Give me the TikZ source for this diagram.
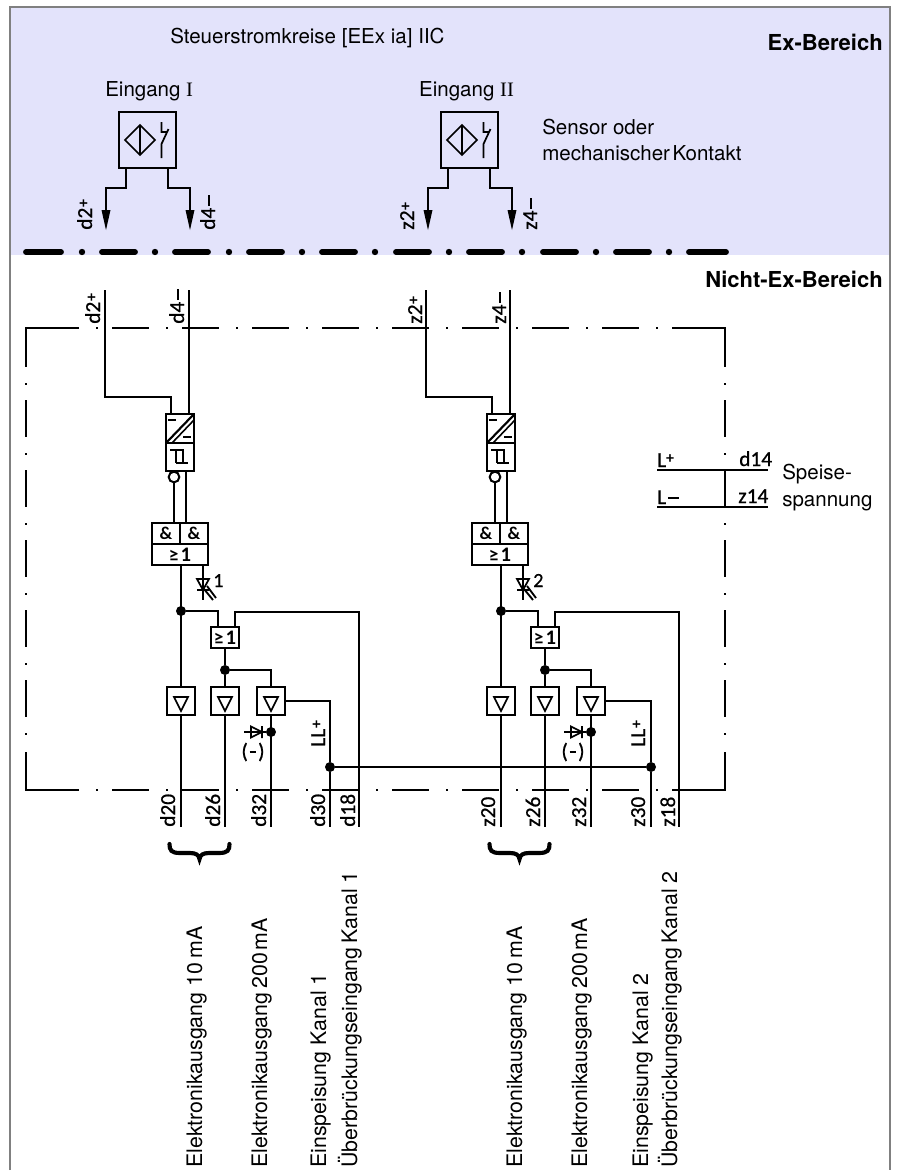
\documentclass[tikz,border=0pt]{standalone}
\usepackage{fontspec}
\setmainfont{TeX Gyre Heros}
\newfontfamily\serf{Liberation Serif}
\newfontfamily\din[RawFeature={embolden=0.7}]{Carlito}
\newfontfamily\dinbold{Carlito Bold}
\definecolor{exbg}{HTML}{E3E3FB}
\definecolor{framegray}{HTML}{808080}
\newcommand{\txtf}{\fontsize{15.4}{18}\selectfont}
\newcommand{\vtxtf}{\fontsize{16}{18}\selectfont}
\newcommand{\boldf}{\bfseries\fontsize{16.5}{18}\selectfont}
\newcommand{\dinf}{\din\fontsize{16}{18}\selectfont}
\newcommand{\dinb}{\dinbold\fontsize{13.5}{15}\selectfont}
\newcommand{\plusm}{\raisebox{.32ex}{\dinbold\fontsize{12}{12}\selectfont +}}
\newcommand{\minusm}{\hspace{.08em}\rule[.52ex]{.5em}{.085em}}
\newcommand{\geone}{{\dinbold\fontsize{14.5}{12}\selectfont ≥}\hspace{.12em}{\dinbold\fontsize{15.5}{15}\selectfont 1}}
\tikzset{
  x=0.75pt,y=-0.75pt,
  wire/.style={line width=1.6pt,line cap=butt,line join=miter},
  bx/.style 2 args={draw,line width=1.6pt,inner sep=0pt,outer sep=0pt,minimum width=#1*0.75pt,minimum height=#2*0.75pt},
  dot/.style={circle,fill=black,inner sep=0pt,minimum size=7.5pt},
  ring/.style={circle,draw,line width=1.5pt,fill=white,inner sep=0pt,minimum size=8pt},
  txt/.style={font=\txtf,inner sep=0pt,anchor=base west},
  vtxt/.style={font=\vtxtf,inner sep=0pt,anchor=base west,rotate=90},
  vdin/.style={font=\dinf,inner sep=0pt,anchor=base west,rotate=90},
  hdin/.style={font=\dinf,inner sep=0pt,anchor=base west},
  gate/.style={font=\dinb},
  thickdash/.style={line width=4.4pt,line cap=round},
}
% #1 id, #2 letter, #3 LED number, #4 upper offset, #5 converter offset, #6 lower offset, #7 sensor title
\newcommand{\channel}[7]{%
 \begin{scope}[shift={(#4,0)}]
  \node[bx={57}{56}] (#1sens) at (147.5,140) {};
  \draw[line width=1.3pt,line join=miter] (140,125)--(155,140)--(140,155)--(125,140)--cycle (140,125)--(140,155);
  \draw[line width=1.3pt] (161.5,122)--(161.5,132)--(167.5,132) (168.5,129)--(161.5,144)--(161.5,158);
  \coordinate (#1sl) at (126,168); \coordinate (#1sr) at (168,168);
  \coordinate (#1al) at (106,212); \coordinate (#1ar) at (190,212);
  \coordinate (#1bl) at (106,188); \coordinate (#1br) at (190,188);
  \draw[wire] (#1sl)|-(#1bl)--(#1al);
  \draw[wire] (#1sr)|-(#1br)--(#1ar);
  \fill (101.5,210)--(110.5,210)--(106,230)--cycle;
  \fill (185.5,210)--(194.5,210)--(190,230)--cycle;
  \node[vdin] (#1lt2) at (92,230) {#22\plusm};
  \node[vdin] (#1lt4) at (215,230) {#24\minusm};
  \node[vdin] (#1lb2) at (100,324) {#22\plusm};
  \node[vdin] (#1lb4) at (184,324) {#24\minusm};
 \end{scope}
 \node[txt] (#1title) at ({105+#4*0.975},96) {#7};
 \begin{scope}[shift={(#5,0)}]
  \node[bx={28}{29}] (#1conv) at (180,428.5) {};
  \node[bx={28}{28}] (#1schm) at (180,457) {};
  \coordinate (#1ci) at (171,414); \coordinate (#1cj) at (189,414);
  \coordinate (#1ti) at (105,290); \coordinate (#1tj) at (189,290);
  \coordinate (#1kn) at (105,397);
  \draw[wire] (#1ti)--(#1kn)-|(#1ci);
  \draw[wire] (#1tj)--(#1cj);
  \draw[wire] (#1conv.south west)--(#1conv.north east);
  \draw[line width=1.2pt] (172,443)--(194,420);
  \draw[wire] (168,420)--(176,420) (183,437)--(191,437);
  \draw[line width=1.3pt] (170,450)--(184,450) (176,450)--(176,463) (183,450)--(183,463) (176,463)--(188,463);
  \node[ring] (#1ring) at (174,477) {};
  \coordinate (#1o1) at (174,482); \coordinate (#1o2) at (186,471);
  \coordinate (#1i1) at (174,523); \coordinate (#1i2) at (186,523);
  \draw[wire] (#1o1)--(#1i1);
  \draw[wire] (#1o2)--(#1i2);
 \end{scope}
 \begin{scope}[shift={(#6,0)}]
  \node[bx={28}{21},gate] (#1a1) at (166,533.5) {\&};
  \node[bx={28}{21},gate] (#1a2) at (194,533.5) {\&};
  \node[bx={56}{21},gate] (#1or) at (180,554.5) {\geone};
  \coordinate (#1oo) at (181,565); \coordinate (#1ol) at (203,565); \coordinate (#1le) at (203,600);
  \draw[wire] (#1ol)--(#1le);
  \draw[line width=1.3pt] (197,579)--(209,579)--(203,590)--cycle (197,590)--(209,590);
  \draw[line width=1.4pt] (207,586)--(216,598) (204,589)--(213,600);
  \node[hdin,font=\din\fontsize{15}{15}\selectfont] (#1ledn) at (213,587) {#3};
  \node[dot] (#1j1) at (181,611) {};
  \node[bx={28}{21},gate] (#1or2) at (225,637.5) {\geone};
  \coordinate (#1g1) at (218,627); \coordinate (#1g2) at (235,627);
  \coordinate (#1top) at (235,612); \coordinate (#1tr) at (359,612); \coordinate (#1e18) at (359,827);
  \draw[wire] (#1j1)-|(#1g1);
  \draw[wire] (#1g2)--(#1top)--(#1tr)--(#1e18);
  \node[dot] (#1j2) at (225,670) {};
  \draw[wire] (#1or2.south)--(#1j2);
  \node[bx={28}{28}] (#1d1) at (180.6,701) {};
  \node[bx={28}{28}] (#1d2) at (225,701) {};
  \node[bx={28}{28}] (#1d3) at (271,701) {};
  \foreach \xc in {181,225,271}{\draw[line width=1.3pt,line join=miter] (\xc-7,697)--(\xc+7,697)--(\xc,711)--cycle;}
  \coordinate (#1d1t) at (181,687); \coordinate (#1d1b) at (181,715);
  \draw[wire] (#1oo)--(#1d1t);
  \draw[wire] (#1j2)--(#1d2.north);
  \draw[wire] (#1j2)-|(#1d3.north);
  \coordinate (#1e20) at (181,827); \coordinate (#1e26) at (225,827); \coordinate (#1e32) at (271,827);
  \draw[wire] (#1d1b)--(#1e20);
  \draw[wire] (#1d2.south)--(#1e26);
  \draw[wire] (#1d3.south)--(#1e32);
  \node[dot] (#1j3) at (271,732) {};
  \coordinate (#1dl) at (244,732);
  \draw[line width=1.3pt] (#1dl)--(#1j3);
  \draw[line width=1.3pt,line join=miter] (251,726.5)--(262,732)--(251,737.5)--cycle (262,726)--(262,738);
  \node[font=\dinf,inner sep=0pt] (#1minus) at (253,752) {(\hspace{.08em}\rule[.25em]{.32em}{.085em}\hspace{.08em})};
  \node[vdin] (#1lll) at (325,747) {LL\plusm};
  \node[vdin] (#1l20) at (175,827) {#220};
  \node[vdin] (#1l26) at (220,827) {#226};
  \node[vdin] (#1l32) at (266,827) {#232};
  \node[vdin] (#1l30) at (325,827) {#230};
  \node[vdin] (#1l18) at (355,827) {#218};
  \draw[line width=3.1pt,line cap=round] (169.5,844) .. controls (169.5,850) and (171,853) .. (180,853) -- (190,853) .. controls (196,853) and (199,855) .. (199.5,859) .. controls (200,855) and (203,853) .. (209,853) -- (219,853) .. controls (228,853) and (229.5,850) .. (229.5,844);
  \node[vtxt] (#1x1) at (202,1168) {Elektronikausgang 10\hspace{.2em}mA};
  \node[vtxt] (#1x2) at (267,1168) {Elektronikausgang\hspace{.18em}200\hspace{.12em}mA};
  \node[vtxt] (#1x4) at (357,1168) {Überbrückungseingang\hspace{.18em}Kanal #3};
 \end{scope}
}
\begin{document}
\begin{tikzpicture}
\useasboundingbox (0,0) rectangle (899,1171);
\fill[white] (0,0) rectangle (899,1171);
\fill[exbg] (10,7) rectangle (890,255);
\draw[framegray,line width=1.5pt] (10,1170)--(10,7)--(890,7)--(890,1170);
% thick separator
\foreach \xa/\xb in {26/61,102/135,175/208,249/282,322/355,396/429,469/502,543/576,616/649,689/726}{\draw[thickdash] (\xa,252)--(\xb,252);}
\foreach \xd in {82,155,229,302,375,449,522,596,669}{\fill (\xd,252) circle (2.4pt);}
% dash-dot enclosure: corners
\coordinate (tl) at (26,328); \coordinate (tr) at (725,328); \coordinate (bl) at (26,790); \coordinate (br) at (725,790);
\draw[wire] (79,328)--(tl)--(26,367);
\draw[wire] (672,328)--(tr)--(725,367);
\draw[wire] (79,790)--(bl)--(26,752);
\draw[wire] (672,790)--(br)--(725,752);
% dash-dot enclosure: horizontal runs
\foreach \xs in {112,182,...,602}{
  \draw[wire] (\xs,328)--(\xs+37,328);
  \draw[wire] (\xs,790)--(\xs+37,790);
}
\foreach \xs in {96,166,...,656}{
  \draw[wire] (\xs,328)--(\xs+2,328);
  \draw[wire] (\xs,790)--(\xs+2,790);
}
% dash-dot enclosure: vertical runs
\foreach \ys in {400,470,...,680}{
  \draw[wire] (26,\ys)--(26,\ys+37);
  \draw[wire] (725,\ys)--(725,\ys+37);
}
\foreach \ys in {383,453,...,733}{
  \draw[wire] (26,\ys)--(26,\ys+2);
  \draw[wire] (725,\ys)--(725,\ys+2);
}
\channel{a}{d}{1}{0}{0}{0}{Eingang {\serf I}}
\channel{b}{z}{2}{322}{321}{320}{Eingang {\serf II}}
% shared bus
\node[dot] (busa) at (330,767) {};
\node[dot] (busb) at (651,767) {};
\coordinate (ea) at (330,827); \coordinate (eb) at (651,827);
\draw[wire] (ad3.east)-|(busa);
\draw[wire] (bd3.east)-|(busb);
\draw[wire] (busa)--(ea);
\draw[wire] (busb)--(eb);
\draw[wire] (busa)--(busb);
\node[vtxt] (ein1) at (326,1168) {Einspeisung Kanal 1};
\node[vtxt] (ein2) at (648,1168) {Einspeisung Kanal 2};
% texts
\node[txt] (steuer) at (170,43) {Steuerstromkreise [EEx ia] IIC};
\node[txt,font=\boldf,anchor=base east] (exb) at (883,50) {Ex-Bereich};
\node[txt,font=\boldf,anchor=base east] (nexb) at (883,287) {Nicht-Ex-Bereich};
\node[txt] (sens1) at (542,134) {Sensor oder};
\node[txt] (sens2) at (542,160) {mechanischer\hspace{.12em}Kontakt};
% supply
\coordinate (lpa) at (657,470); \coordinate (lpb) at (768,470); \coordinate (lma) at (657,507); \coordinate (lmb) at (768,507);
\coordinate (lpc) at (725,470); \coordinate (lmc) at (725,507);
\draw[wire] (lpa)--(lpb);
\draw[wire] (lma)--(lmb);
\draw[wire] (lpc)--(lmc);
\node[hdin] (lp) at (657,467) {L\plusm};
\node[hdin] (lm) at (657,504) {L\minusm};
\node[hdin] (d14) at (739,466) {d14};
\node[hdin] (z14) at (738,503) {z14};
\node[txt] (sp1) at (782,479) {Speise-};
\node[txt] (sp2) at (782,506) {spannung};
\end{tikzpicture}
\end{document}
